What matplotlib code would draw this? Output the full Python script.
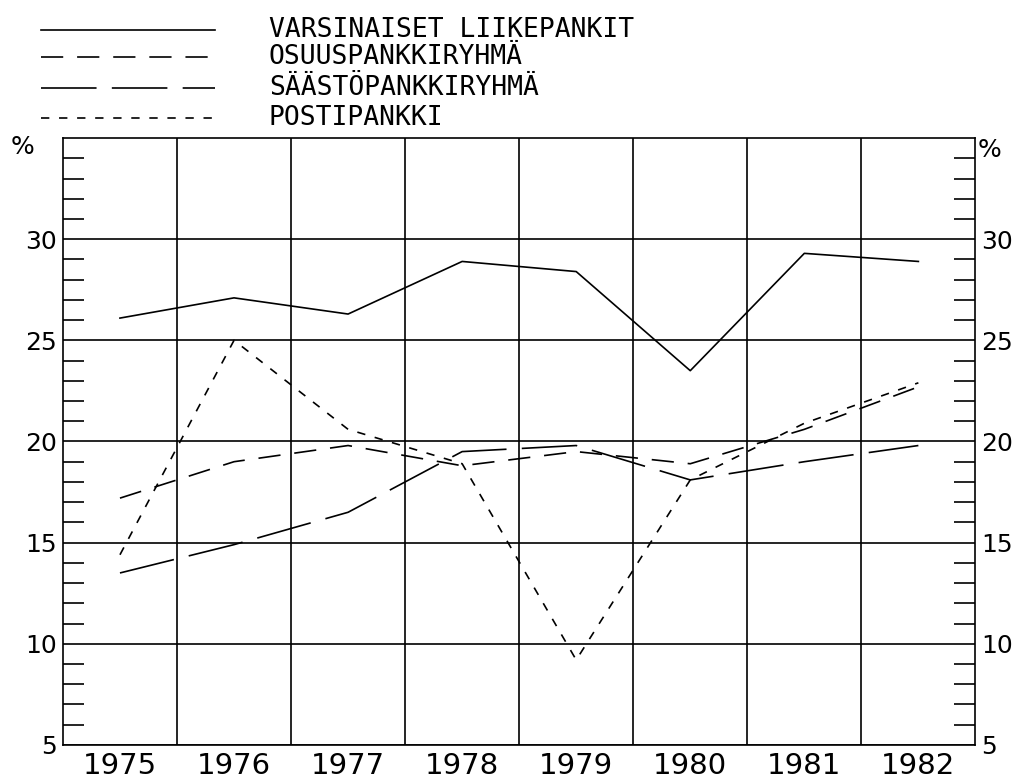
import matplotlib
matplotlib.use("Agg")
import matplotlib.pyplot as plt
from matplotlib.lines import Line2D
from matplotlib.ticker import FixedLocator

plt.rcParams['font.family'] = ['DejaVu Sans Mono', 'DejaVu Sans']
plt.rcParams['lines.scale_dashes'] = False

# --- data ---
vuodet = [1975, 1976, 1977, 1978, 1979, 1980, 1981, 1982]
liikepankit = [26.1, 27.1, 26.3, 28.9, 28.4, 23.5, 29.3, 28.9]
osuuspankit = [17.2, 19.0, 19.8, 18.8, 19.5, 18.9, 20.6, 22.7]
saastopankit = [13.5, 14.9, 16.5, 19.5, 19.8, 18.1, 19.0, 19.8]
postipankki = [14.4, 25.0, 20.6, 18.9, 9.2, 18.1, 20.9, 22.9]

sarjat = ["VARSINAISET LIIKEPANKIT", "OSUUSPANKKIRYHMÄ",
          "SÄÄSTÖPANKKIRYHMÄ", "POSTIPANKKI"]
y_ticks = [5, 10, 15, 20, 25, 30]

tyylit = ['-', (0, (16, 10)), (0, (40, 11)), (0, (6, 7))]
lw = 1.2

fig = plt.figure(figsize=(10.15, 7.8), dpi=100)
ax = fig.add_axes([0.062, 0.045, 0.899, 0.778])

for arvot, ls in zip([liikepankit, osuuspankit, saastopankit, postipankki], tyylit):
    ax.plot(vuodet, arvot, color='black', lw=lw, linestyle=ls)

ax.set_xlim(vuodet[0] - 0.5, vuodet[-1] + 0.5)
ax.set_ylim(5, 35)

# x: labels at the years, grid lines between them
ax.set_xticks(vuodet)
ax.set_xticklabels([str(v) for v in vuodet], fontsize=21, family='DejaVu Sans')
ax.xaxis.set_minor_locator(FixedLocator([v + 0.5 for v in vuodet[:-1]]))
ax.tick_params(axis='x', which='both', length=0, pad=5)
ax.grid(True, axis='x', which='minor', color='black', lw=lw)

# y: labels both sides, grid at majors, inward minor ticks
ax.set_yticks(y_ticks)
ax.set_yticklabels([str(v) for v in y_ticks], fontsize=18, family='DejaVu Sans')
ax.yaxis.set_minor_locator(FixedLocator([v for v in range(6, 35) if v % 5 != 0]))
ax.tick_params(axis='y', which='major', length=0, pad=4, labelright=True, right=True)
ax.tick_params(axis='y', which='minor', direction='in', length=15, width=lw,
               left=True, right=True)
ax.grid(True, axis='y', which='major', color='black', lw=lw)
for s in ax.spines.values():
    s.set_linewidth(lw)

# percent signs above the y labels
fig.text(0.022, 0.812, "%", fontsize=18, ha='center', va='center', family='DejaVu Sans')
fig.text(0.975, 0.808, "%", fontsize=18, ha='center', va='center', family='DejaVu Sans')

# legend block (line samples + names) at top left
leg_y = [0.962, 0.927, 0.887, 0.849]
for nimi, ls, yy in zip(sarjat, tyylit, leg_y):
    fig.add_artist(Line2D([0.04, 0.212], [yy, yy], transform=fig.transFigure,
                          color='black', lw=lw, linestyle=ls))
    fig.text(0.265, yy, nimi, fontsize=19, va='center', ha='left')

fig.savefig("out.png", dpi=100)
